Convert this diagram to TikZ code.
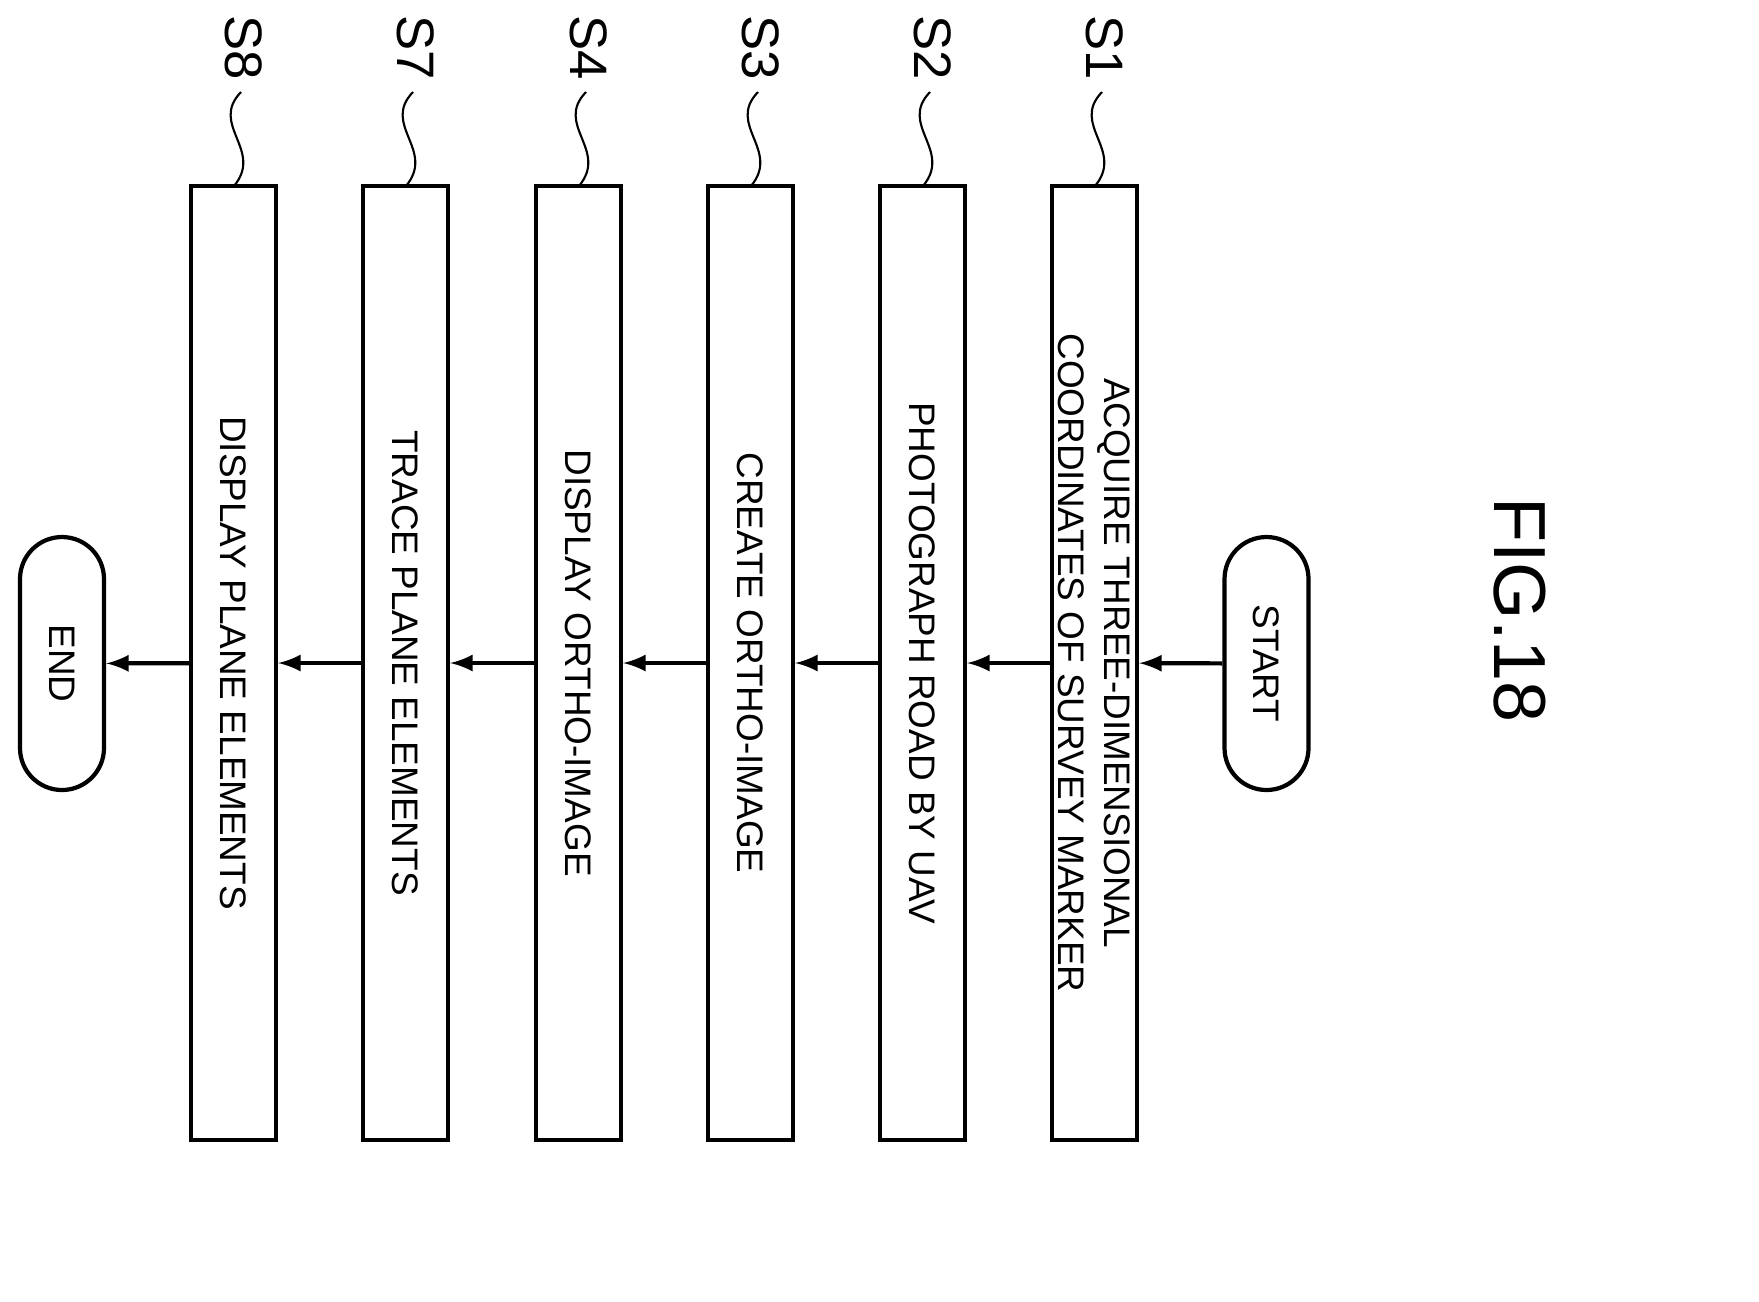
\documentclass[tikz,border=0pt]{standalone}
\usepackage{fontspec}
\setmainfont{Liberation Sans}
\usetikzlibrary{positioning}

\tikzset{
	stepbox/.style = {draw, line width = 1.2pt, minimum width = 9.54cm, minimum height = 0.85cm, rotate = -90, inner sep = 0pt, align = center, font = \fontsize{10.5}{13}\selectfont},
	term/.style = {draw, line width = 1.2pt, rounded corners = 0.42cm, minimum width = 2.53cm, minimum height = 0.84cm, rotate = -90, inner sep = 0pt, font = \fontsize{10.5}{13}\selectfont},
	tag/.style = {rotate = -90, font = \fontsize{15}{18}\selectfont},
	flow/.style = {->, >= latex, line width = 1.2pt},
	wave/.style = {line width = 0.6pt}
}

\begin{document}
\begin{tikzpicture}

	% Title
	
	\node [rotate = -90, font = \fontsize{21}{24}\selectfont] (fig) at (15.2, -6.1) {FIG.18};
	
	% Terminals
	
	\node [term] (start) at (12.665, -6.635) {START};
	\node [term] (end) at (0.62, -6.635) {END};
	
	% Steps
	
	\node [stepbox] (s1) at (10.945, -6.63) {ACQUIRE THREE-DIMENSIONAL\\COORDINATES OF SURVEY MARKER};
	\node [stepbox] (s2) at (9.225, -6.63) {PHOTOGRAPH ROAD BY UAV};
	\node [stepbox] (s3) at (7.505, -6.63) {CREATE ORTHO-IMAGE};
	\node [stepbox] (s4) at (5.785, -6.63) {DISPLAY ORTHO-IMAGE};
	\node [stepbox] (s7) at (4.055, -6.63) {TRACE PLANE ELEMENTS};
	\node [stepbox] (s8) at (2.335, -6.63) {DISPLAY PLANE ELEMENTS};
	
	% Arrows
	
	\draw [flow] (start) -- (s1);
	\draw [flow] (s1) -- (s2);
	\draw [flow] (s2) -- (s3);
	\draw [flow] (s3) -- (s4);
	\draw [flow] (s4) -- (s7);
	\draw [flow] (s7) -- (s8);
	\draw [flow] (s8) -- (end);
	
	% Step tags with squiggles
	
	\foreach \n/\t/\x in {s1/S1/10.95, s2/S2/9.23, s3/S3/7.51, s4/S4/5.79, s7/S7/4.06, s8/S8/2.34} {
		\node [tag] (tag\n) at (\x + 0.1, -0.48) {\t};
		\coordinate (top\n) at (\x, -1.86);
		\draw [wave] (\x + 0.07, -0.92) .. controls (\x - 0.25, -1.25) and (\x + 0.3, -1.5) .. (top\n);
	}
	
	% Frame
	
	\pgfresetboundingbox
	\path [use as bounding box] (0, 0) rectangle (17.59, -13.01);

\end{tikzpicture}
\end{document}
